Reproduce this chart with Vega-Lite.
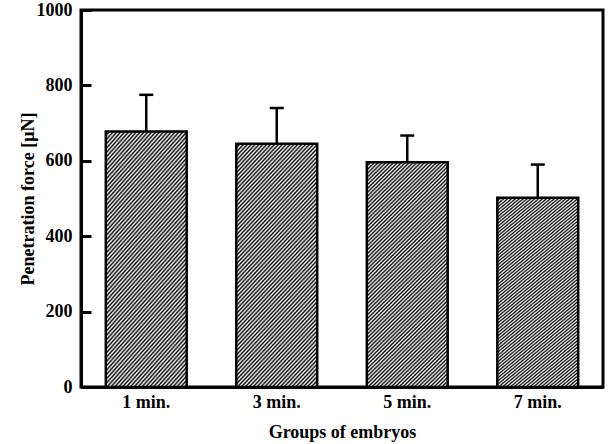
{
  "$schema": "https://vega.github.io/schema/vega-lite/v6.json",
  "width": 522,
  "height": 377,
  "autosize": {"type": "none"},
  "padding": {"left": 81, "top": 10, "right": 7, "bottom": 57},
  "background": "white",
  "config": {
    "view": {"stroke": "black", "strokeWidth": 3},
    "font": "Times New Roman, Liberation Serif, serif"
  },
  "data": {
    "values": [
      {"group": "1 min.", "force": 678, "upper": 775},
      {"group": "3 min.", "force": 645, "upper": 740},
      {"group": "5 min.", "force": 596, "upper": 667},
      {"group": "7 min.", "force": 502, "upper": 590}
    ]
  },
  "encoding": {
    "x": {
      "field": "group",
      "type": "nominal",
      "sort": null,
      "scale": {"paddingInner": 0.38, "paddingOuter": 0.19},
      "axis": {
        "labelAngle": 0,
        "ticks": false,
        "domainWidth": 3,
        "domainColor": "black",
        "labelFont": "Times New Roman, Liberation Serif, serif",
        "labelFontWeight": "bold",
        "labelFontSize": 18,
        "labelColor": "black",
        "labelBaseline": "alphabetic",
        "labelPadding": 20,
        "title": "Groups of embryos",
        "titleFont": "Times New Roman, Liberation Serif, serif",
        "titleFontSize": 18,
        "titleFontWeight": "bold",
        "titleColor": "black",
        "titleX": 261,
        "titleY": 50,
        "titleBaseline": "alphabetic"
      }
    },
    "y": {
      "field": "force",
      "type": "quantitative",
      "title": "Penetration force [μN]",
      "scale": {"domain": [0, 1000], "nice": false, "zero": true},
      "axis": {
        "values": [0, 200, 400, 600, 800, 1000],
        "format": "d",
        "grid": false,
        "tickSize": -10,
        "tickWidth": 3,
        "tickColor": "black",
        "domainWidth": 3,
        "domainColor": "black",
        "labelPadding": 19,
        "labelFont": "Times New Roman, Liberation Serif, serif",
        "labelFontWeight": "bold",
        "labelFontSize": 18,
        "labelColor": "black",
        "labelFlush": false,
        "titleFont": "Times New Roman, Liberation Serif, serif",
        "titleFontSize": 18,
        "titleFontWeight": "bold",
        "titleColor": "black",
        "titleX": -48,
        "titleY": 188.5,
        "titleAngle": -90,
        "titleAlign": "center",
        "titleBaseline": "alphabetic"
      }
    }
  },
  "layer": [
    {
      "mark": {
        "type": "bar",
        "stroke": "black",
        "strokeWidth": 2.5,
        "fill": {
          "gradient": "linear",
          "x1": 0, "y1": 0, "x2": 0.43, "y2": 1.21,
          "stops": [
            {"offset": 0, "color": "#000"}, {"offset": 0.00625, "color": "#fff"}, {"offset": 0.0125, "color": "#000"}, {"offset": 0.01875, "color": "#fff"},
            {"offset": 0.025, "color": "#000"}, {"offset": 0.03125, "color": "#fff"}, {"offset": 0.0375, "color": "#000"}, {"offset": 0.04375, "color": "#fff"},
            {"offset": 0.05, "color": "#000"}, {"offset": 0.05625, "color": "#fff"}, {"offset": 0.0625, "color": "#000"}, {"offset": 0.06875, "color": "#fff"},
            {"offset": 0.075, "color": "#000"}, {"offset": 0.08125, "color": "#fff"}, {"offset": 0.0875, "color": "#000"}, {"offset": 0.09375, "color": "#fff"},
            {"offset": 0.1, "color": "#000"}, {"offset": 0.10625, "color": "#fff"}, {"offset": 0.1125, "color": "#000"}, {"offset": 0.11875, "color": "#fff"},
            {"offset": 0.125, "color": "#000"}, {"offset": 0.13125, "color": "#fff"}, {"offset": 0.1375, "color": "#000"}, {"offset": 0.14375, "color": "#fff"},
            {"offset": 0.15, "color": "#000"}, {"offset": 0.15625, "color": "#fff"}, {"offset": 0.1625, "color": "#000"}, {"offset": 0.16875, "color": "#fff"},
            {"offset": 0.175, "color": "#000"}, {"offset": 0.18125, "color": "#fff"}, {"offset": 0.1875, "color": "#000"}, {"offset": 0.19375, "color": "#fff"},
            {"offset": 0.2, "color": "#000"}, {"offset": 0.20625, "color": "#fff"}, {"offset": 0.2125, "color": "#000"}, {"offset": 0.21875, "color": "#fff"},
            {"offset": 0.225, "color": "#000"}, {"offset": 0.23125, "color": "#fff"}, {"offset": 0.2375, "color": "#000"}, {"offset": 0.24375, "color": "#fff"},
            {"offset": 0.25, "color": "#000"}, {"offset": 0.25625, "color": "#fff"}, {"offset": 0.2625, "color": "#000"}, {"offset": 0.26875, "color": "#fff"},
            {"offset": 0.275, "color": "#000"}, {"offset": 0.28125, "color": "#fff"}, {"offset": 0.2875, "color": "#000"}, {"offset": 0.29375, "color": "#fff"},
            {"offset": 0.3, "color": "#000"}, {"offset": 0.30625, "color": "#fff"}, {"offset": 0.3125, "color": "#000"}, {"offset": 0.31875, "color": "#fff"},
            {"offset": 0.325, "color": "#000"}, {"offset": 0.33125, "color": "#fff"}, {"offset": 0.3375, "color": "#000"}, {"offset": 0.34375, "color": "#fff"},
            {"offset": 0.35, "color": "#000"}, {"offset": 0.35625, "color": "#fff"}, {"offset": 0.3625, "color": "#000"}, {"offset": 0.36875, "color": "#fff"},
            {"offset": 0.375, "color": "#000"}, {"offset": 0.38125, "color": "#fff"}, {"offset": 0.3875, "color": "#000"}, {"offset": 0.39375, "color": "#fff"},
            {"offset": 0.4, "color": "#000"}, {"offset": 0.40625, "color": "#fff"}, {"offset": 0.4125, "color": "#000"}, {"offset": 0.41875, "color": "#fff"},
            {"offset": 0.425, "color": "#000"}, {"offset": 0.43125, "color": "#fff"}, {"offset": 0.4375, "color": "#000"}, {"offset": 0.44375, "color": "#fff"},
            {"offset": 0.45, "color": "#000"}, {"offset": 0.45625, "color": "#fff"}, {"offset": 0.4625, "color": "#000"}, {"offset": 0.46875, "color": "#fff"},
            {"offset": 0.475, "color": "#000"}, {"offset": 0.48125, "color": "#fff"}, {"offset": 0.4875, "color": "#000"}, {"offset": 0.49375, "color": "#fff"},
            {"offset": 0.5, "color": "#000"}, {"offset": 0.50625, "color": "#fff"}, {"offset": 0.5125, "color": "#000"}, {"offset": 0.51875, "color": "#fff"},
            {"offset": 0.525, "color": "#000"}, {"offset": 0.53125, "color": "#fff"}, {"offset": 0.5375, "color": "#000"}, {"offset": 0.54375, "color": "#fff"},
            {"offset": 0.55, "color": "#000"}, {"offset": 0.55625, "color": "#fff"}, {"offset": 0.5625, "color": "#000"}, {"offset": 0.56875, "color": "#fff"},
            {"offset": 0.575, "color": "#000"}, {"offset": 0.58125, "color": "#fff"}, {"offset": 0.5875, "color": "#000"}, {"offset": 0.59375, "color": "#fff"},
            {"offset": 0.6, "color": "#000"}, {"offset": 0.60625, "color": "#fff"}, {"offset": 0.6125, "color": "#000"}, {"offset": 0.61875, "color": "#fff"},
            {"offset": 0.625, "color": "#000"}, {"offset": 0.63125, "color": "#fff"}, {"offset": 0.6375, "color": "#000"}, {"offset": 0.64375, "color": "#fff"},
            {"offset": 0.65, "color": "#000"}, {"offset": 0.65625, "color": "#fff"}, {"offset": 0.6625, "color": "#000"}, {"offset": 0.66875, "color": "#fff"},
            {"offset": 0.675, "color": "#000"}, {"offset": 0.68125, "color": "#fff"}, {"offset": 0.6875, "color": "#000"}, {"offset": 0.69375, "color": "#fff"},
            {"offset": 0.7, "color": "#000"}, {"offset": 0.70625, "color": "#fff"}, {"offset": 0.7125, "color": "#000"}, {"offset": 0.71875, "color": "#fff"},
            {"offset": 0.725, "color": "#000"}, {"offset": 0.73125, "color": "#fff"}, {"offset": 0.7375, "color": "#000"}, {"offset": 0.74375, "color": "#fff"},
            {"offset": 0.75, "color": "#000"}, {"offset": 0.75625, "color": "#fff"}, {"offset": 0.7625, "color": "#000"}, {"offset": 0.76875, "color": "#fff"},
            {"offset": 0.775, "color": "#000"}, {"offset": 0.78125, "color": "#fff"}, {"offset": 0.7875, "color": "#000"}, {"offset": 0.79375, "color": "#fff"},
            {"offset": 0.8, "color": "#000"}, {"offset": 0.80625, "color": "#fff"}, {"offset": 0.8125, "color": "#000"}, {"offset": 0.81875, "color": "#fff"},
            {"offset": 0.825, "color": "#000"}, {"offset": 0.83125, "color": "#fff"}, {"offset": 0.8375, "color": "#000"}, {"offset": 0.84375, "color": "#fff"},
            {"offset": 0.85, "color": "#000"}, {"offset": 0.85625, "color": "#fff"}, {"offset": 0.8625, "color": "#000"}, {"offset": 0.86875, "color": "#fff"},
            {"offset": 0.875, "color": "#000"}, {"offset": 0.88125, "color": "#fff"}, {"offset": 0.8875, "color": "#000"}, {"offset": 0.89375, "color": "#fff"},
            {"offset": 0.9, "color": "#000"}, {"offset": 0.90625, "color": "#fff"}, {"offset": 0.9125, "color": "#000"}, {"offset": 0.91875, "color": "#fff"},
            {"offset": 0.925, "color": "#000"}, {"offset": 0.93125, "color": "#fff"}, {"offset": 0.9375, "color": "#000"}, {"offset": 0.94375, "color": "#fff"},
            {"offset": 0.95, "color": "#000"}, {"offset": 0.95625, "color": "#fff"}, {"offset": 0.9625, "color": "#000"}, {"offset": 0.96875, "color": "#fff"},
            {"offset": 0.975, "color": "#000"}, {"offset": 0.98125, "color": "#fff"}, {"offset": 0.9875, "color": "#000"}, {"offset": 0.99375, "color": "#fff"},
            {"offset": 1, "color": "#000"}
          ]
        }
      }
    },
    {
      "mark": {"type": "rule", "color": "black", "strokeWidth": 2.5},
      "encoding": {
        "y2": {"field": "upper"}
      }
    },
    {
      "mark": {"type": "tick", "color": "black", "size": 14, "thickness": 2.5, "opacity": 1},
      "encoding": {
        "y": {"field": "upper", "type": "quantitative", "title": "Penetration force [μN]"}
      }
    }
  ]
}
